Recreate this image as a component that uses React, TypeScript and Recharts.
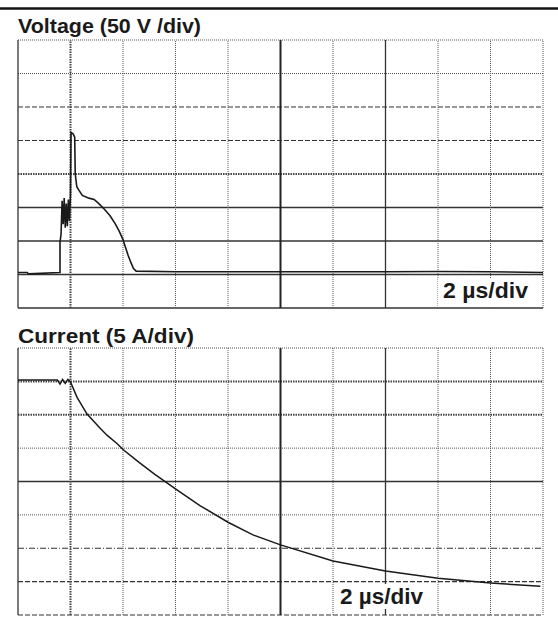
import React from 'react';
import { LineChart, Line, XAxis, YAxis, ReferenceLine } from 'recharts';

// time axis, 2 us/div, 10 divisions
const timeTicks = [0, 2, 4, 6, 8, 10, 12, 14, 16, 18, 20];
// voltage axis, 50 V/div, ground one division above the bottom
const voltTicks = [350, 300, 250, 200, 150, 100, 50, 0, -50];
// current axis, 5 A/div
const currTicks = [40, 35, 30, 25, 20, 15, 10, 5, 0];

// voltage trace (us, V)
const voltTime = [0, 0.35, 0.4, 1.58, 1.6, 1.6, 1.64, 1.68, 1.72, 1.76, 1.8, 1.84, 1.88, 1.92, 1.96, 2.0, 2.02, 2.1, 2.16, 2.18, 2.24, 2.3, 2.45, 2.7, 2.9, 3.1, 3.3, 3.5, 3.7, 3.85, 4.0, 4.1, 4.2, 4.3, 4.4, 4.5, 6, 8, 10, 12, 14, 16, 18, 20];
const voltValue = [3, 3, 1, 3, 3, 48, 60, 110, 75, 114, 70, 106, 72, 112, 80, 120, 212, 210, 205, 150, 131, 127, 118, 114, 112, 105, 97, 88, 76, 65, 52, 40, 28, 18, 9, 5, 4, 4, 4, 4, 4, 4.5, 4, 3];

// current trace (us, A)
const currTime = [0, 1.5, 1.6, 1.7, 1.8, 1.9, 2.0, 2.25, 2.63, 3.12, 3.4, 3.77, 4.0, 4.6, 5.2, 6.0, 6.93, 8.0, 8.95, 10, 12, 14, 16, 18, 19.9];
const currValue = [35.2, 35.2, 34.6, 35.3, 34.7, 35.3, 34.9, 32.6, 30.1, 28.0, 26.9, 25.7, 24.8, 22.9, 21.1, 18.9, 16.4, 13.9, 12.0, 10.5, 8.1, 6.6, 5.5, 4.8, 4.3];

const voltData = voltTime.map((t, i) => ({ t, v: voltValue[i] }));
const currData = currTime.map((t, i) => ({ t, a: currValue[i] }));

type GridStyle = { stroke: string; strokeWidth: number; strokeDasharray?: string };
const solid: GridStyle = { stroke: '#333', strokeWidth: 1.3 };
const heavy: GridStyle = { stroke: '#222', strokeWidth: 2 };
const dotted: GridStyle = { stroke: '#555', strokeWidth: 1, strokeDasharray: '1 1' };
const beaded: GridStyle = { stroke: '#444', strokeWidth: 2, strokeDasharray: '1.5 1' };
const dashed: GridStyle = { stroke: '#333', strokeWidth: 1.2, strokeDasharray: '5 2' };
const dashDot: GridStyle = { stroke: '#333', strokeWidth: 1.2, strokeDasharray: '6 2 1 2' };

const vGridStyles = [solid, beaded, dotted, dotted, dotted, heavy, dotted, solid, dotted, dotted, dotted];
const voltGridStyles = [dotted, dotted, dashed, dashed, beaded, solid, solid, solid, solid];
const currGridStyles = [dotted, beaded, beaded, dotted, solid, dotted, dashDot, dashed, dashed];

const font = '"Liberation Sans", Arial, sans-serif';

export default function App() {
  return (
    <div style={{ position: 'absolute', left: 0, top: 0, width: 558, height: 620, background: '#fff' }}>
      <div style={{ position: 'absolute', left: 0, top: 0 }}>
        <LineChart width={558} height={320} data={voltData} margin={{ top: 40, right: 15, bottom: 12, left: 18 }}>
          <XAxis type="number" dataKey="t" domain={[0, 20]} hide allowDataOverflow />
          <YAxis type="number" domain={[-50, 350]} hide allowDataOverflow />
          {voltTicks.map((y, i) => (
            <ReferenceLine key={'vy' + y} y={y} {...voltGridStyles[i]} />
          ))}
          {timeTicks.map((x, i) => (
            <ReferenceLine key={'vx' + x} x={x} {...vGridStyles[i]} />
          ))}
          <Line type="linear" dataKey="v" stroke="#1a1a1a" strokeWidth={1.6} dot={false} isAnimationActive={false} />
        </LineChart>
      </div>
      <div style={{ position: 'absolute', left: 0, top: 340 }}>
        <LineChart width={558} height={280} data={currData} margin={{ top: 8, right: 15, bottom: 5, left: 18 }}>
          <XAxis type="number" dataKey="t" domain={[0, 20]} hide allowDataOverflow />
          <YAxis type="number" domain={[0, 40]} hide allowDataOverflow />
          {currTicks.map((y, i) => (
            <ReferenceLine key={'cy' + y} y={y} {...currGridStyles[i]} />
          ))}
          {timeTicks.map((x, i) => (
            <ReferenceLine key={'cx' + x} x={x} {...vGridStyles[i]} />
          ))}
          <Line type="linear" dataKey="a" stroke="#1a1a1a" strokeWidth={1.5} dot={false} isAnimationActive={false} />
        </LineChart>
      </div>
      <svg width={558} height={620} style={{ position: 'absolute', left: 0, top: 0, pointerEvents: 'none' }}>
        <line x1={0} x2={558} y1={8.5} y2={8.5} stroke="#111" strokeWidth={2.5} />
        <text x={18} y={33} fontFamily={font} fontWeight="bold" fontSize={21} fill="#1a1a1a" textLength={183} lengthAdjust="spacingAndGlyphs">
          Voltage (50 V /div)
        </text>
        <text x={18} y={343} fontFamily={font} fontWeight="bold" fontSize={21} fill="#1a1a1a" textLength={176} lengthAdjust="spacingAndGlyphs">
          Current (5 A/div)
        </text>
        <rect x={438} y={278} width={103} height={28} fill="#fff" />
        <text x={443} y={298} fontFamily={font} fontWeight="bold" fontSize={22} fill="#1a1a1a" textLength={85} lengthAdjust="spacingAndGlyphs">
          2 µs/div
        </text>
        <rect x={335} y={584} width={97} height={25} fill="#fff" />
        <text x={340} y={604} fontFamily={font} fontWeight="bold" fontSize={22} fill="#1a1a1a" textLength={83} lengthAdjust="spacingAndGlyphs">
          2 µs/div
        </text>
      </svg>
    </div>
  );
}
